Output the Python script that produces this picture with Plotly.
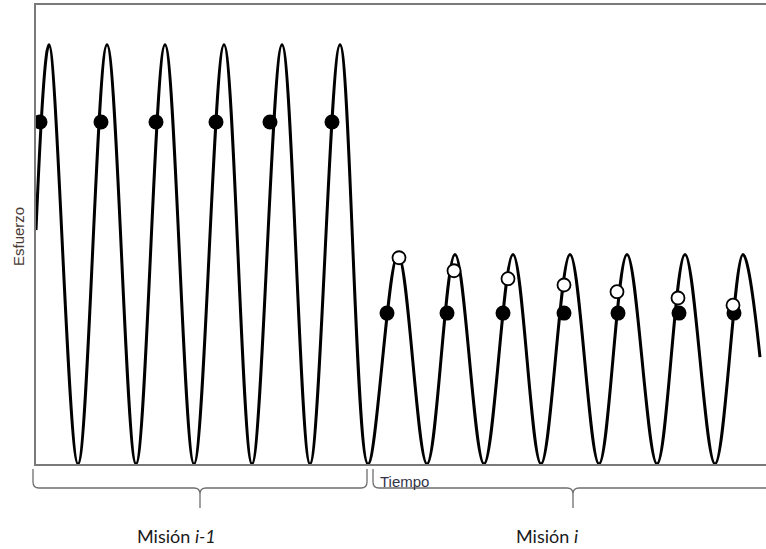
import plotly.graph_objects as go

# ---- data (time in arbitrary units, stress normalised so mission i-1 peak = 100) ----
curve_t = [0, 13, 42, 71, 100, 129, 158, 188, 216, 246, 274, 304, 332,
           362, 391, 419, 448, 477, 505, 534, 563, 591, 621, 649, 679, 707, 724]
curve_s = [55.8, 100, 0, 100, 0, 100, 0, 100, 0, 100, 0, 100, 0,
           50, 0, 50, 0, 50, 0, 50, 0, 50, 0, 50, 0, 50, 25.5]

prev_dots_t = [4, 65, 120, 180, 234, 296]
prev_dots_s = [81.6, 81.6, 81.6, 81.6, 81.6, 81.6]

cur_dots_t = [351, 411, 467, 528, 582, 643, 698]
cur_dots_s = [36, 36, 36, 36, 36, 36, 36]

open_t = [363, 418, 472, 528, 581, 642, 697]
open_s = [49.2, 46.1, 44.2, 42.7, 41.1, 39.6, 37.9]

x_range = [0, 730]
y_range = [0, 109.5]

mission_labels = ["Misión <i>i-1</i>", "Misión <i>i</i>"]
mission_start = [-3, 337]
mission_end = [331, 760]
mission_center = [164, 537]
label_center = [140, 511]

# ---- figure ----
fig = go.Figure()
fig.add_trace(go.Scatter(x=curve_t, y=curve_s, mode="lines",
                         line=dict(color="black", width=3, shape="spline", smoothing=1.0),
                         hoverinfo="skip", showlegend=False))
fig.add_trace(go.Scatter(x=prev_dots_t, y=prev_dots_s, mode="markers",
                         marker=dict(color="black", size=15), showlegend=False))
fig.add_trace(go.Scatter(x=cur_dots_t, y=cur_dots_s, mode="markers",
                         marker=dict(color="black", size=15), showlegend=False))
fig.add_trace(go.Scatter(x=open_t, y=open_s, mode="markers",
                         marker=dict(color="white", size=13,
                                     line=dict(color="black", width=1.8)),
                         showlegend=False))

W, H = 766, 549
L, R, T, B = 36, 0, 5, 85
plot_w = W - L - R
plot_h = H - T - B


def xp(t):
    return (t - x_range[0]) / (x_range[1] - x_range[0])


def yp(pix_below):
    # pixel distance below the x axis -> paper coordinate
    return -pix_below / plot_h


shapes = []
for s, e, c in zip(mission_start, mission_end, mission_center):
    r = 6 / plot_w
    x0, x1, xc = xp(s), xp(e), xp(c)
    ytop, ymid, ybot = yp(5), yp(24), yp(44)
    rr = 6 / plot_h
    path = (f"M {x0},{ytop} L {x0},{ymid + rr} Q {x0},{ymid} {x0 + r},{ymid} "
            f"L {xc - r},{ymid} Q {xc},{ymid} {xc},{ymid - rr} L {xc},{ybot} "
            f"M {xc},{ymid - rr} Q {xc},{ymid} {xc + r},{ymid} "
            f"L {x1 - r},{ymid} Q {x1},{ymid} {x1},{ymid + rr} L {x1},{ytop}")
    shapes.append(dict(type="path", xref="paper", yref="paper", path=path,
                       line=dict(color="#6e6e6e", width=1.3)))

annotations = [
    dict(text="Esfuerzo", xref="paper", yref="paper", x=-18 / plot_w, y=(464 - 237) / plot_h,
         textangle=-90, showarrow=False, font=dict(family="Arial", size=15, color="#4a3a33"),
         xanchor="center", yanchor="middle"),
    dict(text="Tiempo", xref="paper", yref="paper", x=xp(342), y=yp(17),
         showarrow=False, font=dict(family="Arial", size=15, color="#33334a"),
         xanchor="left", yanchor="middle"),
]
for lab, lc in zip(mission_labels, label_center):
    annotations.append(dict(text=lab, xref="paper", yref="paper", x=xp(lc), y=yp(72),
                            showarrow=False, font=dict(family="Lato", size=18, color="#1a1a1a"),
                            xanchor="center", yanchor="middle"))

fig.update_layout(
    width=W, height=H,
    margin=dict(l=L, r=R, t=T, b=B),
    paper_bgcolor="white", plot_bgcolor="white",
    xaxis=dict(range=x_range, showgrid=False, zeroline=False, showticklabels=False,
               ticks="", showline=True, mirror=True, linecolor="#7a7a7a", linewidth=1.5),
    yaxis=dict(range=y_range, showgrid=False, zeroline=False, showticklabels=False,
               ticks="", showline=True, mirror=False, linecolor="#7a7a7a", linewidth=1.5),
    shapes=shapes,
    annotations=annotations,
)

fig.write_html("out.html", config={"displayModeBar": False},
               post_script="document.body.style.margin='0px';document.body.style.overflow='hidden';")
